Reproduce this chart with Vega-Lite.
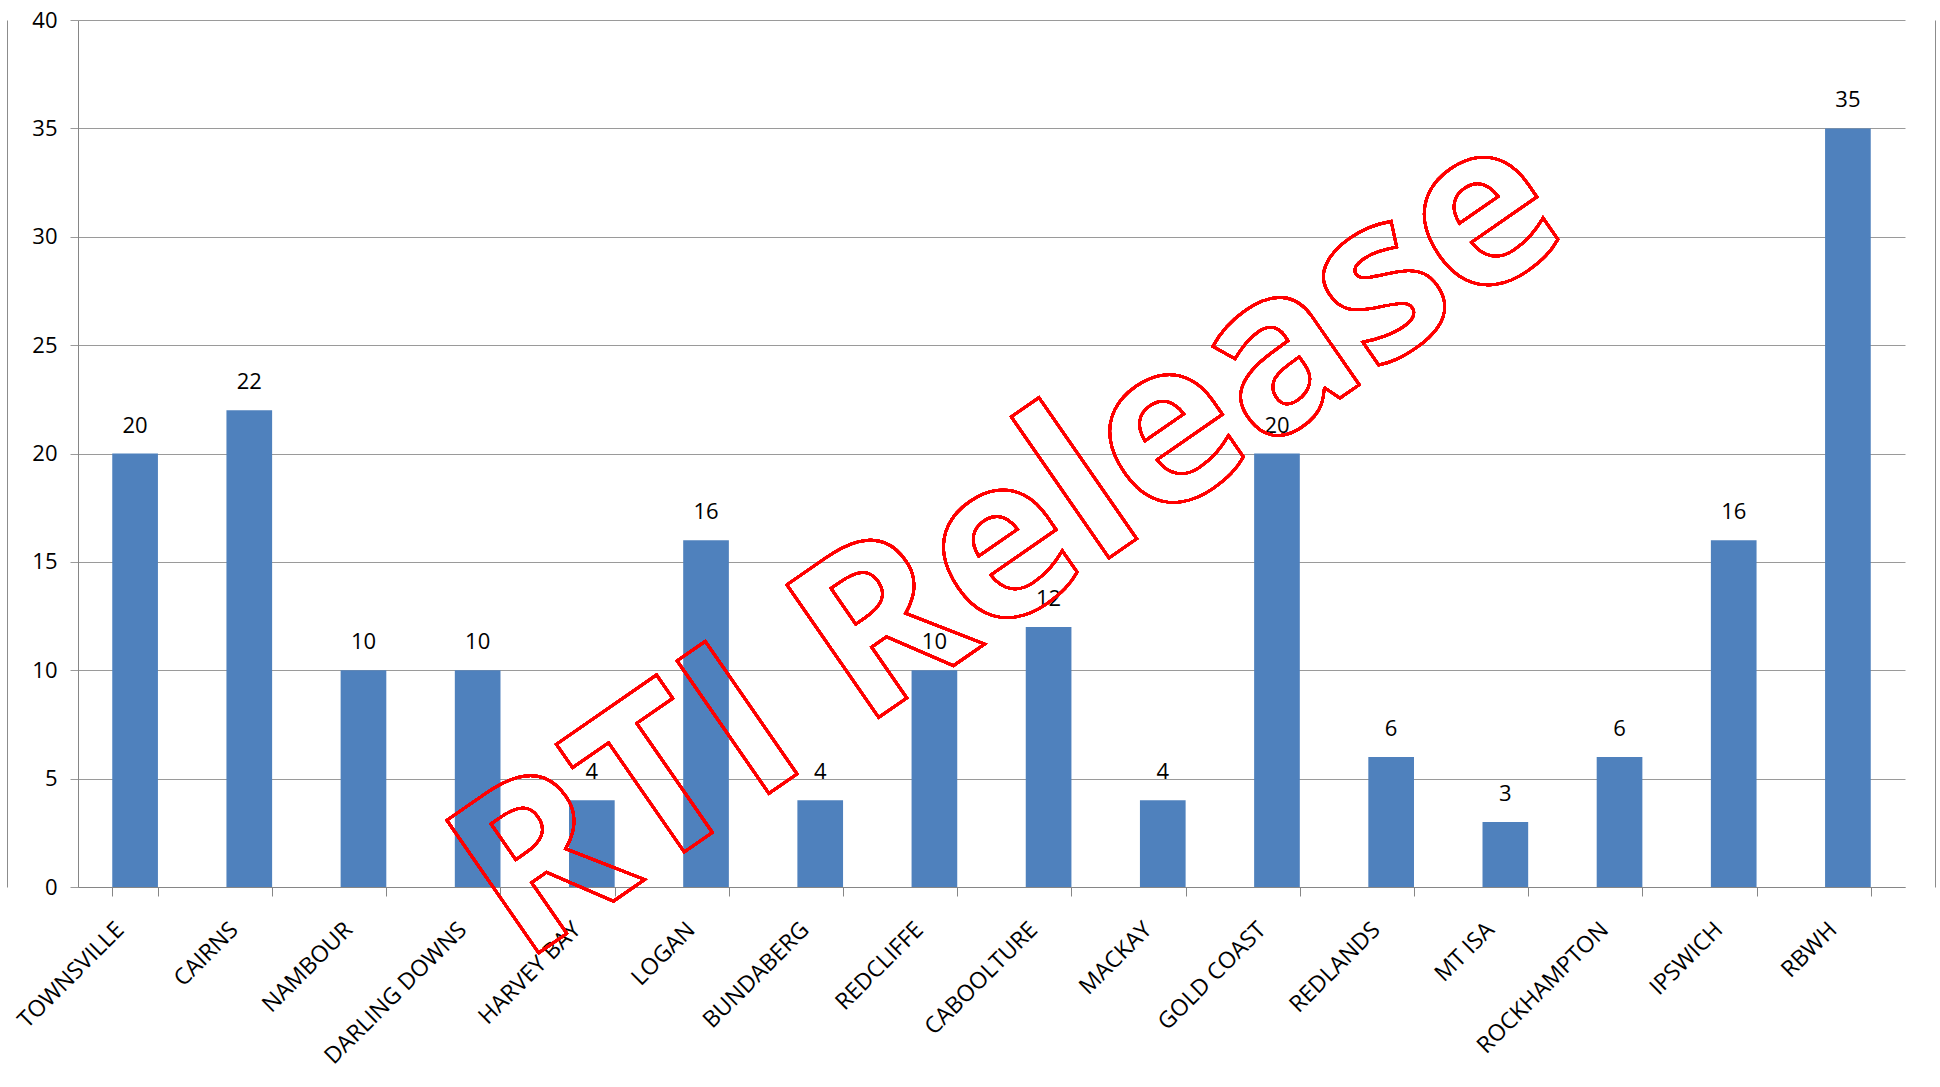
{
  "$schema": "https://vega.github.io/schema/vega-lite/v6.json",
  "width": 1827,
  "height": 867,
  "autosize": {"type": "none"},
  "padding": {"left": 78, "top": 20, "right": 35, "bottom": 200},
  "background": "white",
  "config": {
    "view": {"stroke": null},
    "font": "Open Sans",
    "axis": {"labelFont": "Open Sans", "labelColor": "#000000", "labelFontSize": 22, "titleFontSize": 22}
  },
  "data": {
    "values": [
      {"site": "TOWNSVILLE", "count": 20},
      {"site": "CAIRNS", "count": 22},
      {"site": "NAMBOUR", "count": 10},
      {"site": "DARLING DOWNS", "count": 10},
      {"site": "HARVEY BAY", "count": 4},
      {"site": "LOGAN", "count": 16},
      {"site": "BUNDABERG", "count": 4},
      {"site": "REDCLIFFE", "count": 10},
      {"site": "CABOOLTURE", "count": 12},
      {"site": "MACKAY", "count": 4},
      {"site": "GOLD COAST", "count": 20},
      {"site": "REDLANDS", "count": 6},
      {"site": "MT ISA", "count": 3},
      {"site": "ROCKHAMPTON", "count": 6},
      {"site": "IPSWICH", "count": 16},
      {"site": "RBWH", "count": 35}
    ]
  },
  "layer": [
    {
      "mark": {"type": "bar", "color": "#4F81BD"},
      "encoding": {
        "x": {
          "field": "site",
          "type": "nominal",
          "sort": null,
          "scale": {"paddingInner": 0.6, "paddingOuter": 0.3},
          "axis": {
            "title": null,
            "labelAngle": -45,
            "labelFontSize": 23,
            "labelPadding": 22,
            "labelOffset": -23,
            "tickBand": "extent",
            "tickSize": 9,
            "tickColor": "#868686",
            "domainColor": "#868686",
            "labelLimit": 400
          }
        },
        "y": {
          "field": "count",
          "type": "quantitative",
          "scale": {"domain": [0, 40], "nice": false},
          "axis": {
            "title": null,
            "values": [0, 5, 10, 15, 20, 25, 30, 35, 40],
            "grid": true,
            "gridColor": "#9a9a9a",
            "tickSize": 8,
            "tickColor": "#9a9a9a",
            "domainColor": "#868686",
            "labelPadding": 13
          }
        }
      }
    },
    {
      "mark": {"type": "text", "baseline": "alphabetic", "dy": -21, "fontSize": 22, "color": "#000000", "font": "Open Sans"},
      "encoding": {
        "x": {"field": "site", "type": "nominal", "sort": null},
        "y": {
          "field": "count",
          "type": "quantitative",
          "axis": {"title": null, "orient": "left", "offset": 71, "labels": false, "ticks": false, "grid": false, "domainColor": "#8c8c8c"}
        },
        "text": {"field": "count", "type": "quantitative"}
      }
    },
    {
      "mark": {
        "type": "text",
        "font": "Open Sans",
        "fontWeight": "bold",
        "fontSize": 226,
        "angle": -34.7,
        "align": "center",
        "baseline": "alphabetic",
        "color": "#FF0000",
        "fillOpacity": 0,
        "stroke": "#FF0000",
        "strokeWidth": 2.6,
        "strokeOpacity": 1
      },
      "encoding": {
        "x": {"datum": "CABOOLTURE", "type": "nominal"},
        "y": {
          "datum": 13.25,
          "type": "quantitative",
          "axis": {"title": null, "orient": "right", "offset": 30, "labels": false, "ticks": false, "grid": false, "domainColor": "#8c8c8c"}
        },
        "text": {"value": "RTI Release"}
      }
    }
  ],
  "resolve": {"axis": {"y": "independent"}}
}
